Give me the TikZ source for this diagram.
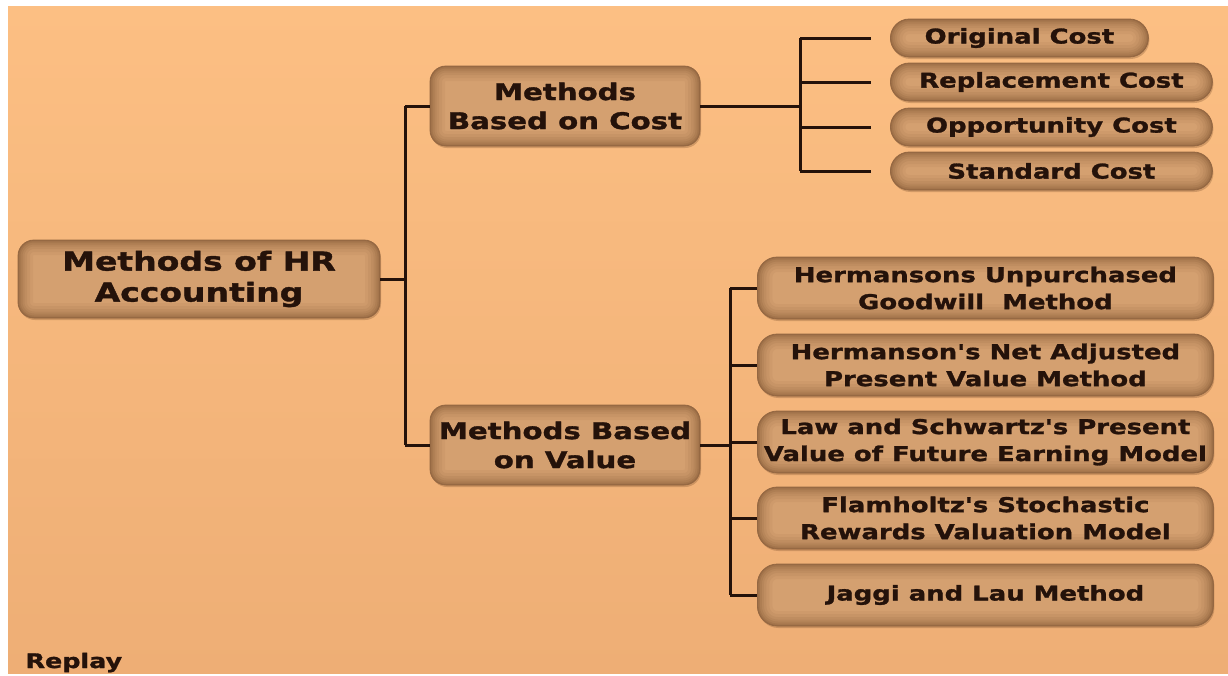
\documentclass[tikz,border=0pt]{standalone}
\usepackage{fontspec}
\setmainfont{DejaVu Sans}[FakeStretch=1.27, FakeBold=1.4, Ligatures=TeXOff]
\usetikzlibrary{calc,positioning,shadows}
\definecolor{bgtop}{RGB}{252,191,131}
\definecolor{bgbot}{RGB}{238,174,117}
\definecolor{boxtan}{RGB}{212,160,112}
\definecolor{boxedge}{RGB}{95,56,28}
\definecolor{inkbrown}{RGB}{36,18,10}
\tikzset{
  link/.style={
    draw=inkbrown, line width=3pt
  },
  hrbox/.style={
    draw=boxedge!55!boxtan, line width=0.8pt, fill=boxtan,
    rounded corners=#1, inner sep=0pt, align=center, text=inkbrown,
    general shadow={shadow xshift=1pt, shadow yshift=-2pt, fill=boxedge, opacity=.25},
    path picture={
      \foreach \w/\o in {30/0.05,24/0.06,18/0.07,13/0.08,9/0.1,5/0.12,2/0.16}
        \draw[rounded corners=#1, line width=\w pt, draw=boxedge, opacity=\o]
          (path picture bounding box.south west) rectangle (path picture bounding box.north east);
    }
  },
  rootbox/.style={
    hrbox=16, minimum width=362, minimum height=78,
    font=\bfseries\fontsize{26}{31}\selectfont
  },
  midbox/.style={
    hrbox=16, minimum width=270, minimum height=80,
    font=\bfseries\fontsize{23}{29}\selectfont
  },
  costleaf/.style={
    hrbox=19, minimum height=38, anchor=west,
    font=\bfseries\fontsize{20.4}{22}\selectfont
  },
  valueleaf/.style={
    hrbox=20, minimum width=456, minimum height=62, anchor=west,
    font=\bfseries\fontsize{20.4}{27}\selectfont
  }
}
\begin{document}
\begin{tikzpicture}[x=1pt,y=-1pt]
  \useasboundingbox (0,0) rectangle (1228,675);
  \fill[white] (0,0) rectangle (1228,675);
  \fill[top color=bgtop, bottom color=bgbot] (8,6) rectangle (1228,673);

  \node[rootbox] (root) at (199,279) {Methods of HR\\Accounting};

  \node[midbox] (cost) at (565,106) {Methods\\Based on Cost};
  \node[midbox] (value) at (565,445) {Methods Based\\on Value};

  \node[costleaf,minimum width=258] (orig) at (890,38) {Original Cost};
  \node[costleaf,minimum width=322] (repl) at (890,82) {Replacement Cost};
  \node[costleaf,minimum width=322] (opp) at (890,127) {Opportunity Cost};
  \node[costleaf,minimum width=322] (std) at (890,171) {Standard Cost};

  \node[valueleaf] (herm) at (757,288) {Hermansons Unpurchased\\Goodwill\ \ Method};
  \node[valueleaf] (hnet) at (757,365) {Hermanson's Net Adjusted\\Present Value Method};
  \node[valueleaf] (law) at (757,442) {Law and Schwartz's Present\\Value of Future Earning Model};
  \node[valueleaf] (flam) at (757,518) {Flamholtz's Stochastic\\Rewards Valuation Model};
  \node[valueleaf] (jag) at (757,595) {Jaggi and Lau Method};

  \node[font=\bfseries\fontsize{20}{20}\selectfont,text=inkbrown,anchor=base west] (replay) at (22,668) {Replay};

  % trunk from the root to both groups
  \coordinate (trunk) at ($(root.east)!.5!(cost.west |- root.east)$);
  \draw[link] (root.east) -- (trunk);
  \draw[link] (trunk |- cost.west) -- (trunk |- value.west);
  \draw[link] (trunk |- cost.west) -- (cost.west);
  \draw[link] (trunk |- value.west) -- (value.west);

  % cost group
  \coordinate (costbus) at ($(cost.east)+(100,0)$);
  \draw[link] (cost.east) -- (costbus);
  \draw[link] (costbus |- orig.west) -- (costbus |- std.west);
  \draw[link,shorten >=19pt] (costbus |- orig.west) -- (orig.west);
  \draw[link,shorten >=19pt] (costbus |- repl.west) -- (repl.west);
  \draw[link,shorten >=19pt] (costbus |- opp.west) -- (opp.west);
  \draw[link,shorten >=19pt] (costbus |- std.west) -- (std.west);

  % value group
  \coordinate (valuebus) at ($(value.east)+(30,0)$);
  \draw[link] (value.east) -- (valuebus);
  \draw[link] (valuebus |- herm.west) -- (valuebus |- jag.west);
  \draw[link] (valuebus |- herm.west) -- (herm.west);
  \draw[link] (valuebus |- hnet.west) -- (hnet.west);
  \draw[link] (valuebus |- law.west) -- (law.west);
  \draw[link] (valuebus |- flam.west) -- (flam.west);
  \draw[link] (valuebus |- jag.west) -- (jag.west);
\end{tikzpicture}
\end{document}
